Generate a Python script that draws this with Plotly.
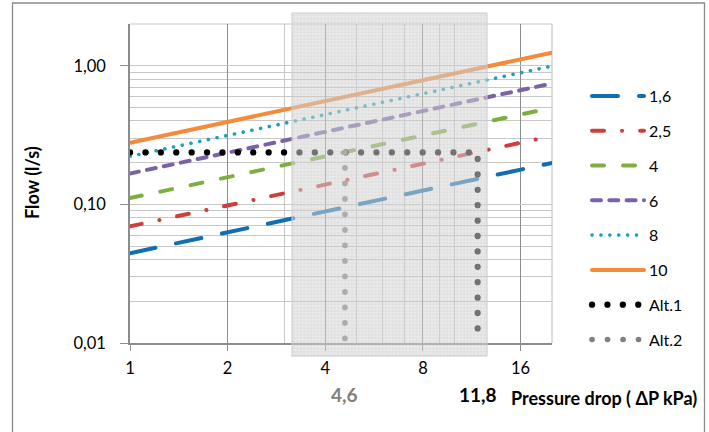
import math
import plotly.graph_objects as go

# ---------------- data ----------------
P_KPA = [1, 2, 4, 8, 16, 20]                       # pressure drop, kPa
FLOW_1_6 = [0.0444, 0.0629, 0.0889, 0.126, 0.178, 0.199]
FLOW_2_5 = [0.0694, 0.0982, 0.139, 0.196, 0.278, 0.311]
FLOW_4 = [0.111, 0.157, 0.222, 0.314, 0.444, 0.497]
FLOW_6 = [0.167, 0.236, 0.333, 0.471, 0.667, 0.745]
FLOW_8 = [0.222, 0.314, 0.444, 0.629, 0.889, 0.994]
FLOW_10 = [0.278, 0.393, 0.556, 0.786, 1.111, 1.242]

ALT1_X = [1, 11.8, 11.8]
ALT1_Y = [0.237, 0.237, 0.01]
ALT2_X = [4.6, 4.6]
ALT2_Y = [0.237, 0.01]

SERIES_NAMES = ["1,6", "2,5", "4", "6", "8", "10"]
X_TICKS = [1, 2, 4, 8, 16]
X_TICK_TEXT = ["1", "2", "4", "8", "16"]
X_MINOR = [3, 5, 6, 7, 9, 10]
Y_TICKS = [0.01, 0.1, 1]
Y_TICK_TEXT = ["0,01", "0,10", "1,00"]
Y_MINOR = [0.02, 0.03, 0.04, 0.05, 0.06, 0.07, 0.08, 0.09,
           0.2, 0.3, 0.4, 0.5, 0.6, 0.7, 0.8, 0.9, 2]
MARK_LABELS = ["4,6", "11,8"]
MARK_X = [4.6, 11.8]

# ---------------- styles ----------------
W, H = 709, 432
FONT = "Lato"
# dash lengths assume round line caps (set in post_script)
styles = [
    dict(color="#0F6FB2", width=4, dash="26px,21px"),
    dict(color="#CC3F3A", width=4, dash="12px,18px,0.1px,18px"),
    dict(color="#7EAE3E", width=4, dash="12px,19px"),
    dict(color="#7B62A6", width=4, dash="9px,8.3px"),
    dict(color="#1BA1BD", width=3.6, dash="0.1px,8.8px"),
    dict(color="#F48A3A", width=4, dash="solid"),
]
series = [FLOW_1_6, FLOW_2_5, FLOW_4, FLOW_6, FLOW_8, FLOW_10]

fig = go.Figure()
for i, (name, ys, st) in enumerate(zip(SERIES_NAMES, series, styles)):
    fig.add_trace(go.Scatter(x=P_KPA, y=ys, name=name, mode="lines",
                             line=st, legendgroup=f"g{i}", hoverinfo="skip"))

fig.add_trace(go.Scatter(x=ALT1_X, y=ALT1_Y, name="Alt.1", mode="lines",
                         line=dict(color="#000000", width=6.2, dash="0.1px,15.3px"),
                         legendgroup="g6", hoverinfo="skip"))
fig.add_trace(go.Scatter(x=ALT2_X, y=ALT2_Y, name="Alt.2", mode="lines",
                         line=dict(color="#808080", width=5.6, dash="0.1px,15.4px"),
                         legendgroup="g7", hoverinfo="skip"))

# shaded band (decorative overlay on a full-figure helper subplot)
bx0, bx1 = 292 / W, 487 / W
by0, by1 = 1 - 356 / H, 1 - 13 / H
fig.add_trace(go.Scatter(
    x=[bx0, bx1, bx1, bx0, bx0], y=[by0, by0, by1, by1, by0],
    xaxis="x2", yaxis="y2", mode="lines", fill="toself",
    line=dict(color="#cacaca", width=1),
    fillcolor="rgba(215,215,215,0.5)",
    fillpattern=dict(shape="+", size=3.4, solidity=0.3, fillmode="replace",
                     bgcolor="rgba(215,215,215,0.5)", fgcolor="#a9a9a9",
                     fgopacity=0.32),
    showlegend=False, hoverinfo="skip"))

x0p, x1p = 130 / W, 552 / W
y0p, y1p = 1 - 343 / H, 1 - 24 / H

fig.update_layout(
    width=W, height=H, autosize=False,
    margin=dict(l=0, r=0, t=0, b=0, autoexpand=False),
    paper_bgcolor="white", plot_bgcolor="rgba(0,0,0,0)",
    font=dict(family=FONT, color="#000000"),
    xaxis=dict(type="log", range=[0, 1.30103], domain=[x0p, x1p],
               tickvals=X_TICKS, ticktext=X_TICK_TEXT, automargin=False,
               tickfont=dict(size=16.5, family=FONT), ticklabelstandoff=3,
               showgrid=True, gridcolor="#8c8c8c", gridwidth=1,
               minor=dict(tickvals=X_MINOR, showgrid=True, gridcolor="#c8c8c8",
                          gridwidth=1, ticks=""),
               showline=True, linecolor="#8c8c8c", linewidth=1.5,
               ticks="outside", ticklen=6, tickcolor="#8c8c8c",
               zeroline=False, fixedrange=True, anchor="y"),
    yaxis=dict(type="log", range=[-2, 0.30103], domain=[y0p, y1p],
               tickvals=Y_TICKS, ticktext=Y_TICK_TEXT, automargin=False,
               tickfont=dict(size=16.5, family=FONT), ticklabelstandoff=11,
               showgrid=True, gridcolor="#c8c8c8", gridwidth=1,
               minor=dict(tickvals=Y_MINOR, showgrid=True, gridcolor="#c8c8c8",
                          gridwidth=1, ticks=""),
               showline=True, linecolor="#8c8c8c", linewidth=1.5,
               ticks="outside", ticklen=8, tickcolor="#8c8c8c",
               zeroline=False, fixedrange=True, anchor="x"),
    xaxis2=dict(domain=[0, 1], range=[0, 1], visible=False, fixedrange=True,
                anchor="y2", automargin=False),
    yaxis2=dict(domain=[0, 1], range=[0, 1], visible=False, fixedrange=True,
                anchor="x2", automargin=False),
    legend=dict(x=587 / W, xanchor="left", y=1 - 79 / H, yanchor="top",
                font=dict(size=16, family=FONT), itemwidth=52,
                tracegroupgap=11, bgcolor="rgba(0,0,0,0)", borderwidth=0,
                traceorder="grouped"),
    showlegend=True,
)

# plot-area top and right border, outer chart border
fig.add_shape(type="line", xref="x domain", yref="y domain", x0=0, x1=1, y0=1, y1=1,
              line=dict(color="#c8c8c8", width=1.2), layer="below")
fig.add_shape(type="line", xref="x domain", yref="y domain", x0=1, x1=1, y0=0, y1=1,
              line=dict(color="#c8c8c8", width=1.2), layer="below")
fig.add_shape(type="rect", xref="paper", yref="paper",
              x0=12.5 / W, x1=704.5 / W, y0=-0.05, y1=1 - 3 / H,
              line=dict(color="#8a8a8a", width=1.3))

# annotations (log axis -> x given as log10)
for lab, xv, col in zip(MARK_LABELS, MARK_X, ["#808080", "#000000"]):
    fig.add_annotation(x=math.log10(xv), y=1 - 394 / H, xref="x", yref="paper",
                       xanchor="center", yanchor="middle",
                       text=f"<b>{lab}</b>", showarrow=False,
                       font=dict(size=19, color=col, family=FONT))
fig.add_annotation(x=509 / W, y=1 - 398 / H, xref="paper", yref="paper",
                   xanchor="left", yanchor="middle",
                   text="<b>Pressure drop ( ΔP kPa)</b>",
                   showarrow=False, font=dict(size=18, family=FONT))
fig.add_annotation(x=32 / W, y=1 - 183 / H, xref="paper", yref="paper",
                   xanchor="center", yanchor="middle",
                   text="<b>Flow (l/s)</b>", textangle=-90,
                   showarrow=False, font=dict(size=18, family=FONT))

POST = """
var de = document.documentElement;
de.style.margin='0'; de.style.padding='0'; de.style.overflow='hidden';
de.style.height='432px';
document.body.style.margin='0'; document.body.style.padding='0';
document.body.style.overflow='hidden'; document.body.style.height='432px';
var gd = document.getElementById('{plot_id}');
function roundCaps(){
  gd.querySelectorAll('path.js-line').forEach(function(p){
    p.style.strokeLinecap = 'round';
  });
}
roundCaps();
if (gd.on) { gd.on('plotly_afterplot', roundCaps); }
setTimeout(roundCaps, 30);
"""

fig.write_html("out.html",
               config={"displayModeBar": False, "responsive": False},
               post_script=POST)
